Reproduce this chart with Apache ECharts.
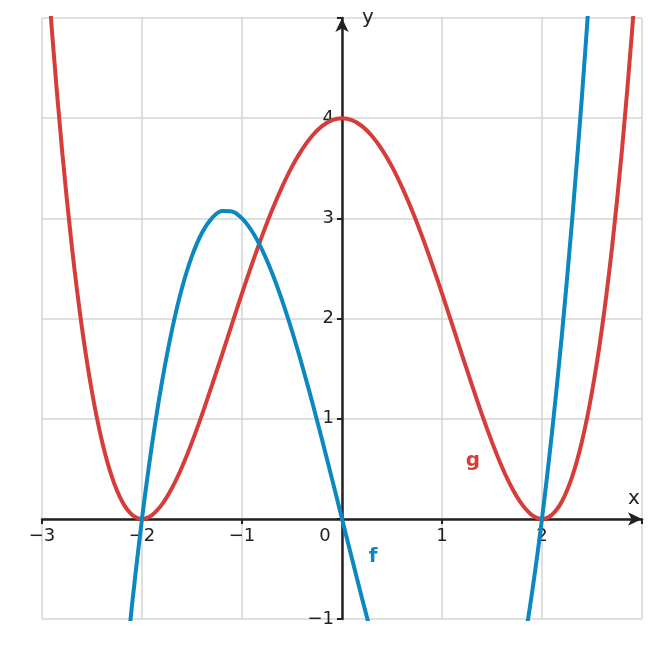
<!DOCTYPE html>
<html><head><meta charset="utf-8">
<script src="https://cdn.jsdelivr.net/npm/echarts@6/dist/echarts.min.js"></script>
<style>html,body{margin:0;padding:0;background:#fff}#c{width:661px;height:648px}</style>
</head><body><div id="c"></div>
<script>
const fX = [-2.2,-2.1,-2.0,-1.9,-1.8,-1.7,-1.6,-1.5,-1.4,-1.3,-1.2,-1.1,-1.0,-0.9,-0.8,-0.7,-0.6,-0.5,-0.4,-0.3,-0.2,-0.1,0,0.1,0.2,0.3,0.4,0.5,0.6,0.7,0.8,0.9,1.0,1.1,1.2,1.3,1.4,1.5,1.6,1.7,1.8,1.9,2.0,2.1,2.2,2.3,2.4,2.5];
const fY = [-1.848,-0.861,0,0.741,1.368,1.887,2.304,2.625,2.856,3.003,3.072,3.069,3,2.871,2.688,2.457,2.184,1.875,1.536,1.173,0.792,0.399,0,-0.399,-0.792,-1.173,-1.536,-1.875,-2.184,-2.457,-2.688,-2.871,-3,-3.069,-3.072,-3.003,-2.856,-2.625,-2.304,-1.887,-1.368,-0.741,0,0.861,1.848,2.967,4.224,5.625];
const gX = [-3,-2.9,-2.8,-2.7,-2.6,-2.5,-2.4,-2.3,-2.2,-2.1,-2.0,-1.9,-1.8,-1.7,-1.6,-1.5,-1.4,-1.3,-1.2,-1.1,-1.0,-0.9,-0.8,-0.7,-0.6,-0.5,-0.4,-0.3,-0.2,-0.1,0,0.1,0.2,0.3,0.4,0.5,0.6,0.7,0.8,0.9,1.0,1.1,1.2,1.3,1.4,1.5,1.6,1.7,1.8,1.9,2.0,2.1,2.2,2.3,2.4,2.5,2.6,2.7,2.8,2.9,3];
const gY = [6.25,4.862,3.686,2.706,1.904,1.266,0.774,0.416,0.176,0.042,0,0.038,0.144,0.308,0.518,0.766,1.040,1.334,1.638,1.946,2.25,2.544,2.822,3.080,3.312,3.516,3.686,3.822,3.920,3.980,4,3.980,3.920,3.822,3.686,3.516,3.312,3.080,2.822,2.544,2.25,1.946,1.638,1.334,1.040,0.766,0.518,0.308,0.144,0.038,0,0.042,0.176,0.416,0.774,1.266,1.904,2.706,3.686,4.862,6.25];
const labelF = [0.31, -0.38];
const labelG = [1.31, 0.58];
const blue = '#0a88bf', red = '#d63d3a';
const minus = v => (v < 0 ? '\u2212' + Math.abs(v) : '' + v);
const chart = echarts.init(document.getElementById('c'));
chart.setOption({
  animation: false,
  grid: {left: 42, right: 19, top: 18, bottom: 29},
  xAxis: {
    type: 'value', min: -3, max: 3, interval: 1, position: 'bottom', offset: -100,
    name: 'x', nameLocation: 'end', nameGap: -14,
    nameTextStyle: {fontSize: 20, color: '#222', verticalAlign: 'bottom', padding: [0, 0, 10, 0], fontFamily: 'DejaVu Sans'},
    axisLine: {onZero: false, symbol: ['none', 'arrow'], symbolSize: [10, 14], lineStyle: {color: '#222', width: 2.5}},
    axisTick: {show: true, length: 5, lineStyle: {color: '#222', width: 2}},
    axisLabel: {
      fontSize: 18, color: '#222', margin: 8, fontFamily: 'DejaVu Sans',
      formatter: v => v === 0 ? '{z|0}' : (v === 3 ? '' : minus(v)),
      rich: {z: {fontSize: 18, color: '#222', padding: [0, 34, 0, 0], fontFamily: 'DejaVu Sans'}}
    },
    splitLine: {show: true, lineStyle: {color: '#d4d4d4', width: 1.5}}
  },
  yAxis: {
    type: 'value', min: -1, max: 5, interval: 1, position: 'left', offset: -300,
    name: 'y', nameLocation: 'end', nameGap: -10,
    nameTextStyle: {fontSize: 20, color: '#222', align: 'left', padding: [0, 0, 0, 20], fontFamily: 'DejaVu Sans'},
    axisLine: {onZero: false, symbol: ['none', 'arrow'], symbolSize: [10, 14], lineStyle: {color: '#222', width: 2.5}},
    axisTick: {show: true, length: 5, lineStyle: {color: '#222', width: 2}},
    axisLabel: {fontSize: 18, color: '#222', margin: 8, fontFamily: 'DejaVu Sans',
      formatter: v => (v === 0 || v === 5) ? '' : minus(v)},
    splitLine: {show: true, lineStyle: {color: '#d4d4d4', width: 1.5}}
  },
  series: [
    {type: 'line', data: gX.map((x, i) => [x, gY[i]]), smooth: 0.3, showSymbol: false, clip: true,
     lineStyle: {color: red, width: 4}, z: 3},
    {type: 'line', data: fX.map((x, i) => [x, fY[i]]), smooth: 0.3, showSymbol: false, clip: true,
     lineStyle: {color: blue, width: 4}, z: 4},
    {type: 'scatter', symbolSize: 1, data: [labelF], z: 5, itemStyle: {opacity: 0},
     label: {show: true, position: 'inside', formatter: 'f', color: blue, opacity: 1, fontSize: 20, fontWeight: 'bold', fontFamily: 'DejaVu Sans'}},
    {type: 'scatter', symbolSize: 1, data: [labelG], z: 5, itemStyle: {opacity: 0},
     label: {show: true, position: 'inside', formatter: 'g', color: red, opacity: 1, fontSize: 20, fontWeight: 'bold', fontFamily: 'DejaVu Sans'}}
  ]
});
</script></body></html>
